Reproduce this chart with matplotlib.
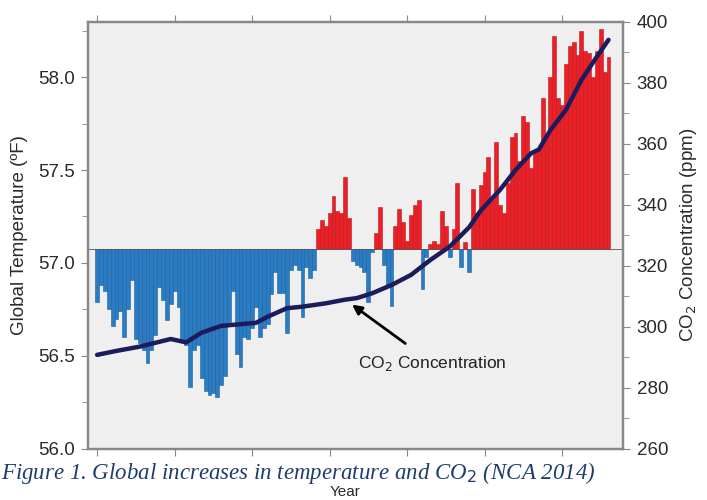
import numpy as np
import matplotlib.pyplot as plt
from matplotlib.ticker import MultipleLocator

# Annual global temperature (deg F), 1880-2012
years = np.arange(1880, 2013)
temps = [
    56.79, 56.88, 56.85, 56.75, 56.66, 56.70, 56.74, 56.60, 56.75, 56.91,  # 1880s
    56.59, 56.57, 56.53, 56.46, 56.53, 56.61, 56.87, 56.80, 56.69, 56.78,  # 1890s
    56.85, 56.76, 56.59, 56.56, 56.33, 56.53, 56.56, 56.38, 56.31, 56.29,  # 1900s
    56.30, 56.28, 56.34, 56.39, 56.68, 56.85, 56.51, 56.44, 56.60, 56.59,  # 1910s
    56.65, 56.76, 56.60, 56.65, 56.67, 56.83, 56.95, 56.84, 56.84, 56.62,  # 1920s
    56.96, 56.99, 56.96, 56.71, 56.98, 56.92, 56.96, 57.18, 57.23, 57.20,  # 1930s
    57.27, 57.36, 57.28, 57.27, 57.46, 57.24, 57.01, 56.99, 56.98, 56.95,  # 1940s
    56.79, 57.06, 57.16, 57.30, 56.99, 56.88, 56.77, 57.20, 57.29, 57.22,  # 1950s
    57.12, 57.26, 57.31, 57.34, 56.86, 57.03, 57.10, 57.12, 57.10, 57.28,  # 1960s
    57.20, 57.03, 57.18, 57.43, 56.98, 57.11, 56.95, 57.40, 57.27, 57.42,  # 1970s
    57.49, 57.57, 57.34, 57.65, 57.31, 57.27, 57.43, 57.68, 57.70, 57.55,  # 1980s
    57.79, 57.76, 57.51, 57.60, 57.62, 57.89, 57.68, 58.00, 58.22, 57.89,  # 1990s
    57.85, 58.07, 58.17, 58.19, 58.12, 58.25, 58.14, 58.13, 58.00, 58.14,  # 2000s
    58.26, 58.03, 58.11,                                                    # 2010s
]
baseline = 57.075

# CO2 concentration (ppm)
co2_years = [1880, 1885, 1891, 1899, 1903, 1907, 1912, 1921, 1924, 1929,
             1933, 1939, 1944, 1947, 1951, 1956, 1961, 1966, 1971, 1976,
             1979, 1984, 1988, 1992, 1994, 1997, 2001, 2005, 2009, 2012]
co2_vals = [290.7, 292.0, 293.4, 295.9, 294.8, 298.0, 300.2, 301.2, 303.2, 306.0,
            306.5, 307.6, 308.8, 309.3, 310.9, 313.6, 316.9, 321.8, 326.2, 332.5,
            338.0, 344.8, 351.3, 356.8, 358.0, 364.4, 371.0, 380.8, 388.5, 394.0]

plt.rcParams['font.family'] = ['Liberation Sans', 'DejaVu Sans']

fig = plt.figure(figsize=(7.07, 5.0), dpi=100)
ax = fig.add_axes([0.125, 0.103, 0.756, 0.854])
ax.set_facecolor('#efefef')

temps = np.array(temps)
colors = np.where(temps >= baseline, '#ec1f26', '#2a7cc4')
edges = np.where(temps >= baseline, '#b51b1f', '#1f5f99')
ax.bar(years, temps - baseline, bottom=baseline, width=1.0,
       color=colors, edgecolor=edges, linewidth=0.4, zorder=2)
ax.axhline(baseline, color='#555555', lw=0.6, zorder=2.5)

ax.set_xlim(1877.75, 2015.7)
ax.set_ylim(56.0, 58.3)
ax.xaxis.set_major_locator(MultipleLocator(20))
ax.set_xticklabels([])
ax.yaxis.set_major_locator(MultipleLocator(0.5))
ax.yaxis.set_minor_locator(MultipleLocator(0.25))
ax.yaxis.set_major_formatter(plt.FormatStrFormatter('%.1f'))
ax.tick_params(axis='both', which='both', direction='out', color='#888888',
               labelsize=13.5, labelcolor='#2a2a2a', top=True, pad=5)
ax.tick_params(which='major', length=5)
ax.tick_params(which='minor', length=4)
ax.set_ylabel('Global Temperature (ºF)', fontsize=13.5, color='#2a2a2a', labelpad=7)

ax2 = ax.twinx()
ax2.plot(co2_years, co2_vals, color='#1c1c5c', lw=3.2, solid_capstyle='round', zorder=5)
ax2.set_ylim(260, 400)
ax2.set_xlim(1877.75, 2015.7)
ax2.yaxis.set_major_locator(MultipleLocator(20))
ax2.yaxis.set_minor_locator(MultipleLocator(10))
ax2.tick_params(axis='y', which='both', direction='out', color='#888888',
                labelsize=13.5, labelcolor='#2a2a2a', pad=5)
ax2.tick_params(which='major', length=5)
ax2.tick_params(which='minor', length=4)
ax2.set_ylabel('CO$_2$ Concentration (ppm)', fontsize=13.5, color='#2a2a2a', labelpad=7)

for a in (ax, ax2):
    for s in a.spines.values():
        s.set_color('#888888')
        s.set_linewidth(1.6)

ax.annotate('CO$_2$ Concentration', xy=(1945.8, 56.775), xytext=(1966.5, 56.46),
            fontsize=12.5, color='#222222', ha='center', va='center',
            arrowprops=dict(arrowstyle='-|>', color='black', lw=2,
                            mutation_scale=14, shrinkA=9, shrinkB=0),
            zorder=6)

fig.text(0.488, 0.003, 'Year', ha='center', va='bottom', fontsize=11, color='#2a2a2a')
fig.text(0.002, 0.054, 'Figure 1. Global increases in temperature and CO$_2$ (NCA 2014)',
         ha='left', va='center', fontsize=16.5, style='italic', color='#1f3c6e',
         family=['Liberation Serif', 'DejaVu Serif'])

fig.savefig('out.png', dpi=100)
